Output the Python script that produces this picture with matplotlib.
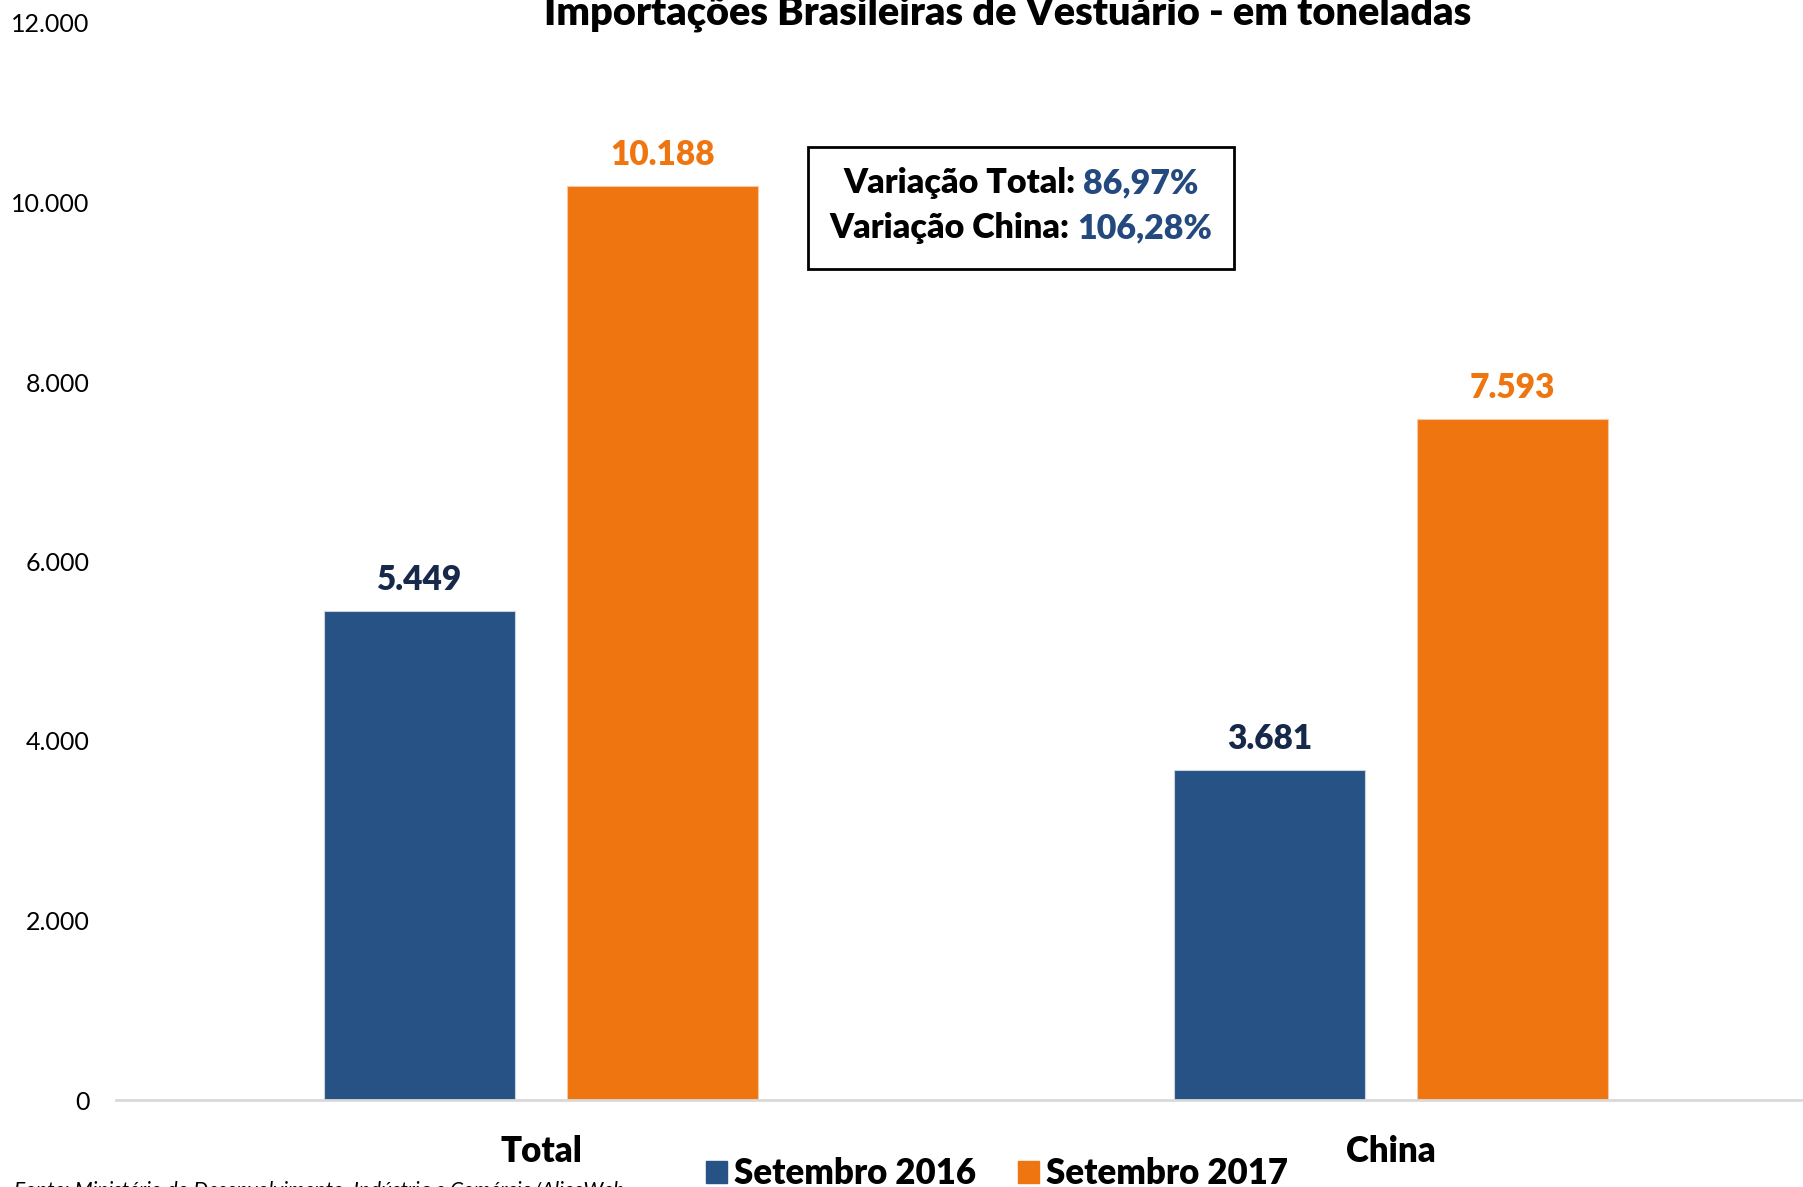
import matplotlib
matplotlib.use("Agg")
import matplotlib.pyplot as plt
import matplotlib.patches as mpatches
import numpy as np

categories = ["Total", "China"]
series_names = ["Setembro 2016", "Setembro 2017"]
set_2016 = [5449, 3681]
set_2017 = [10188, 7593]
labels_2016 = ["5.449", "3.681"]
labels_2017 = ["10.188", "7.593"]
yticks = [0, 2000, 4000, 6000, 8000, 10000, 12000]
ytick_labels = ["0", "2.000", "4.000", "6.000", "8.000", "10.000", "12.000"]
var_names = ["Variação Total: ", "Variação China: "]
var_values = ["86,97%", "106,28%"]

blue = "#265286"
orange = "#EF7511"
navy = "#17294A"
val_blue = "#24497E"
BOLD = 800

plt.rcParams['font.family'] = ['Lato', 'DejaVu Sans']

W, H = 1803, 1187
fig = plt.figure(figsize=(W / 100, H / 100), dpi=100)
ax = fig.add_axes([116 / W, 87 / H, 1700 / W, 1077 / H])

x = np.arange(len(categories))
width = 0.225
off = 0.143
b1 = ax.bar(x - off, set_2016, width, color=blue, edgecolor="#c9d3e0", linewidth=0.8)
b2 = ax.bar(x + off, set_2017, width, color=orange, edgecolor="#f7c9a0", linewidth=0.8)

for rect, lab in zip(b1, labels_2016):
    ax.annotate(lab, (rect.get_x() + rect.get_width() / 2, rect.get_height()),
                xytext=(0, 10.5), textcoords="offset points", ha="center", va="bottom",
                fontsize=24, fontweight=BOLD, color=navy)
for rect, lab in zip(b2, labels_2017):
    ax.annotate(lab, (rect.get_x() + rect.get_width() / 2, rect.get_height()),
                xytext=(0, 10.5), textcoords="offset points", ha="center", va="bottom",
                fontsize=24, fontweight=BOLD, color=orange)

ax.set_xlim(-0.5, 1.5)
ax.set_ylim(0, 12000)
ax.set_yticks(yticks)
ax.set_yticklabels(ytick_labels, fontsize=18)
ax.set_xticks(x)
ax.set_xticklabels(categories, fontsize=25, fontweight=BOLD)
ax.tick_params(axis="y", length=0, pad=19)
ax.tick_params(axis="x", length=0, pad=25)
for s in ["top", "right", "left"]:
    ax.spines[s].set_visible(False)
ax.spines["bottom"].set_color("#D9D9D9")
ax.spines["bottom"].set_linewidth(2)

# title (cut off at the top in the original)
fig.text(1008 / W, 1 - 25 / H, "Importações Brasileiras de Vestuário - em toneladas",
         ha="center", va="baseline", fontsize=28.5, fontweight=BOLD)

# legend
handles = [mpatches.Patch(color=blue), mpatches.Patch(color=orange)]
fig.legend(handles, series_names, loc="center", bbox_to_anchor=(997 / W, 1 - 1174 / H),
           ncol=2, frameon=False, prop={"size": 25, "weight": BOLD},
           handlelength=0.6, handleheight=0.6, handletextpad=0.2, columnspacing=1.2)

# annotation box
box = mpatches.Rectangle((808 / W, 1 - 269 / H), (1234 - 808) / W, (269 - 147) / H,
                         transform=fig.transFigure, fill=False, edgecolor="black", linewidth=2)
fig.patches.append(box)
fig.canvas.draw()
r = fig.canvas.get_renderer()
for i, (nm, val) in enumerate(zip(var_names, var_values)):
    yb = 1 - (193 + 45 * i) / H
    t1 = fig.text(0, yb, nm, ha="left", va="baseline", fontsize=24.5, fontweight=BOLD, color="black")
    t2 = fig.text(0, yb, val, ha="left", va="baseline", fontsize=24.5, fontweight=BOLD, color=val_blue)
    w1 = t1.get_window_extent(r).width
    w2 = t2.get_window_extent(r).width
    x0 = 1021 - (w1 + w2) / 2
    t1.set_x(x0 / W)
    t2.set_x((x0 + w1) / W)

fig.text(14 / W, 1 - 1180 / H, "Fonte: Ministério do Desenvolvimento, Indústria e Comércio/AliceWeb",
         ha="left", va="top", fontsize=15, style="italic")

fig.savefig("out.png", dpi=100)
